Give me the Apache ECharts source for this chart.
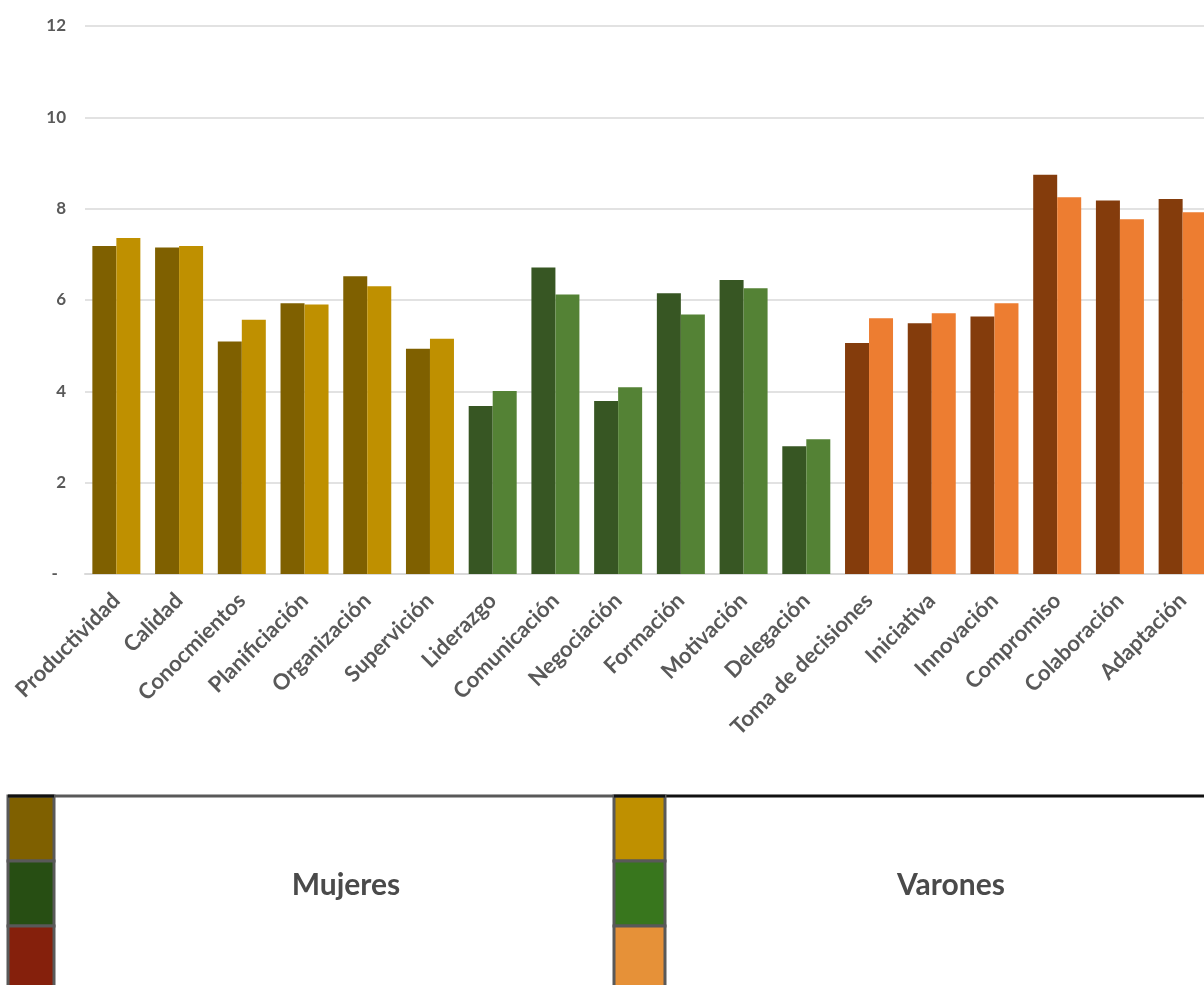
<!DOCTYPE html>
<html>
<head>
<meta charset="utf-8">
<script src="https://cdn.jsdelivr.net/npm/echarts@6/dist/echarts.min.js"></script>
<style>
  html, body { margin: 0; padding: 0; background: #fff; }
  #chart { width: 1204px; height: 985px; }
</style>
</head>
<body>
<div id="chart"></div>
<script>
// competencias evaluadas
var categories = ['Productividad', 'Calidad', 'Conocmientos', 'Planificiación', 'Organización', 'Supervición',
  'Liderazgo', 'Comunicación', 'Negociación', 'Formación', 'Motivación', 'Delegación',
  'Toma de decisiones', 'Iniciativa', 'Innovación', 'Compromiso', 'Colaboración', 'Adaptación'];
// grupo de cada competencia (0 = gestión, 1 = personas, 2 = actitud)
var groups = [0, 0, 0, 0, 0, 0, 1, 1, 1, 1, 1, 1, 2, 2, 2, 2, 2, 2];

var mujeres = [7.18, 7.15, 5.09, 5.93, 6.52, 4.93, 3.68, 6.71, 3.79, 6.15, 6.44, 2.80, 5.06, 5.49, 5.64, 8.74, 8.18, 8.21];
var varones = [7.36, 7.18, 5.57, 5.90, 6.30, 5.15, 4.01, 6.12, 4.09, 5.68, 6.26, 2.95, 5.60, 5.71, 5.93, 8.25, 7.77, 7.92];

var yTicks = [0, 2, 4, 6, 8, 10, 12];
var seriesNames = ['Mujeres', 'Varones'];

var colMujeres = ['#7F6000', '#375623', '#843C0C'];
var colVarones = ['#BF9000', '#548235', '#ED7D31'];
// colores del cuadro inferior
var boxMujeres = ['#7F6000', '#274E13', '#85200C'];
var boxVarones = ['#BF9000', '#38761D', '#E69138'];

var myChart = echarts.init(document.getElementById('chart'));

var labelFont = 'Lato, "Liberation Sans", sans-serif';

function toData(values, colors) {
	return values.map(function (v, i) {
		return { value: v, itemStyle: { color: colors[groups[i]] } };
	});
}

// cuadro de leyenda abajo
var graphics = [];
var rowH = 65, top0 = 796;
function swatchColumn(x, w, colors) {
	colors.forEach(function (c, i) {
		graphics.push({
			type: 'rect',
			shape: { x: x, y: top0 + i * rowH, width: w, height: rowH },
			style: { fill: c, stroke: '#595959', lineWidth: 3 }
		});
	});
}
graphics.push({ type: 'line', shape: { x1: 54, y1: top0, x2: 614, y2: top0 }, style: { stroke: '#595959', lineWidth: 3 } });
graphics.push({ type: 'line', shape: { x1: 665, y1: top0, x2: 1210, y2: top0 }, style: { stroke: '#111', lineWidth: 3 } });
swatchColumn(8, 46, boxMujeres);
swatchColumn(614, 51, boxVarones);
graphics.push({ type: 'line', shape: { x1: 8, y1: top0, x2: 54, y2: top0 }, style: { stroke: '#111', lineWidth: 3 } });
graphics.push({ type: 'line', shape: { x1: 614, y1: top0, x2: 665, y2: top0 }, style: { stroke: '#111', lineWidth: 3 } });
graphics.push({
	type: 'text', x: 346, y: 885,
	style: { text: seriesNames[0], font: 'bold 30px Lato, sans-serif', fill: '#4a4a4a', textAlign: 'center', textVerticalAlign: 'middle' }
});
graphics.push({
	type: 'text', x: 951, y: 885,
	style: { text: seriesNames[1], font: 'bold 30px Lato, sans-serif', fill: '#4a4a4a', textAlign: 'center', textVerticalAlign: 'middle' }
});

var option = {
	animation: false,
	backgroundColor: '#fff',
	grid: { left: 85, top: 26, right: -10, height: 548, containLabel: false, outerBoundsMode: 'none' },
	xAxis: {
		type: 'category',
		data: categories,
		axisLine: { lineStyle: { color: '#d9d9d9', width: 2 } },
		axisTick: { show: false },
		axisLabel: {
			interval: 0,
			rotate: 45,
			margin: 23,
			color: '#595959',
			fontWeight: 'bold',
			fontSize: 22,
			fontFamily: labelFont
		}
	},
	yAxis: {
		type: 'value',
		min: yTicks[0],
		max: yTicks[yTicks.length - 1],
		interval: 2,
		axisLine: { show: false },
		axisTick: { show: false },
		splitLine: { lineStyle: { color: '#d9d9d9', width: 1.5 } },
		axisLabel: {
			margin: 19,
			color: '#595959',
			fontWeight: 'bold',
			fontSize: 17,
			fontFamily: labelFont,
			formatter: function (v) { return v === 0 ? '-  ' : String(v); }
		}
	},
	series: [
		{
			name: seriesNames[0],
			type: 'bar',
			barWidth: 24,
			barGap: '0%',
			data: toData(mujeres, colMujeres)
		},
		{
			name: seriesNames[1],
			type: 'bar',
			barWidth: 24,
			barGap: '0%',
			data: toData(varones, colVarones)
		}
	],
	graphic: graphics
};

myChart.setOption(option);
</script>
</body>
</html>
